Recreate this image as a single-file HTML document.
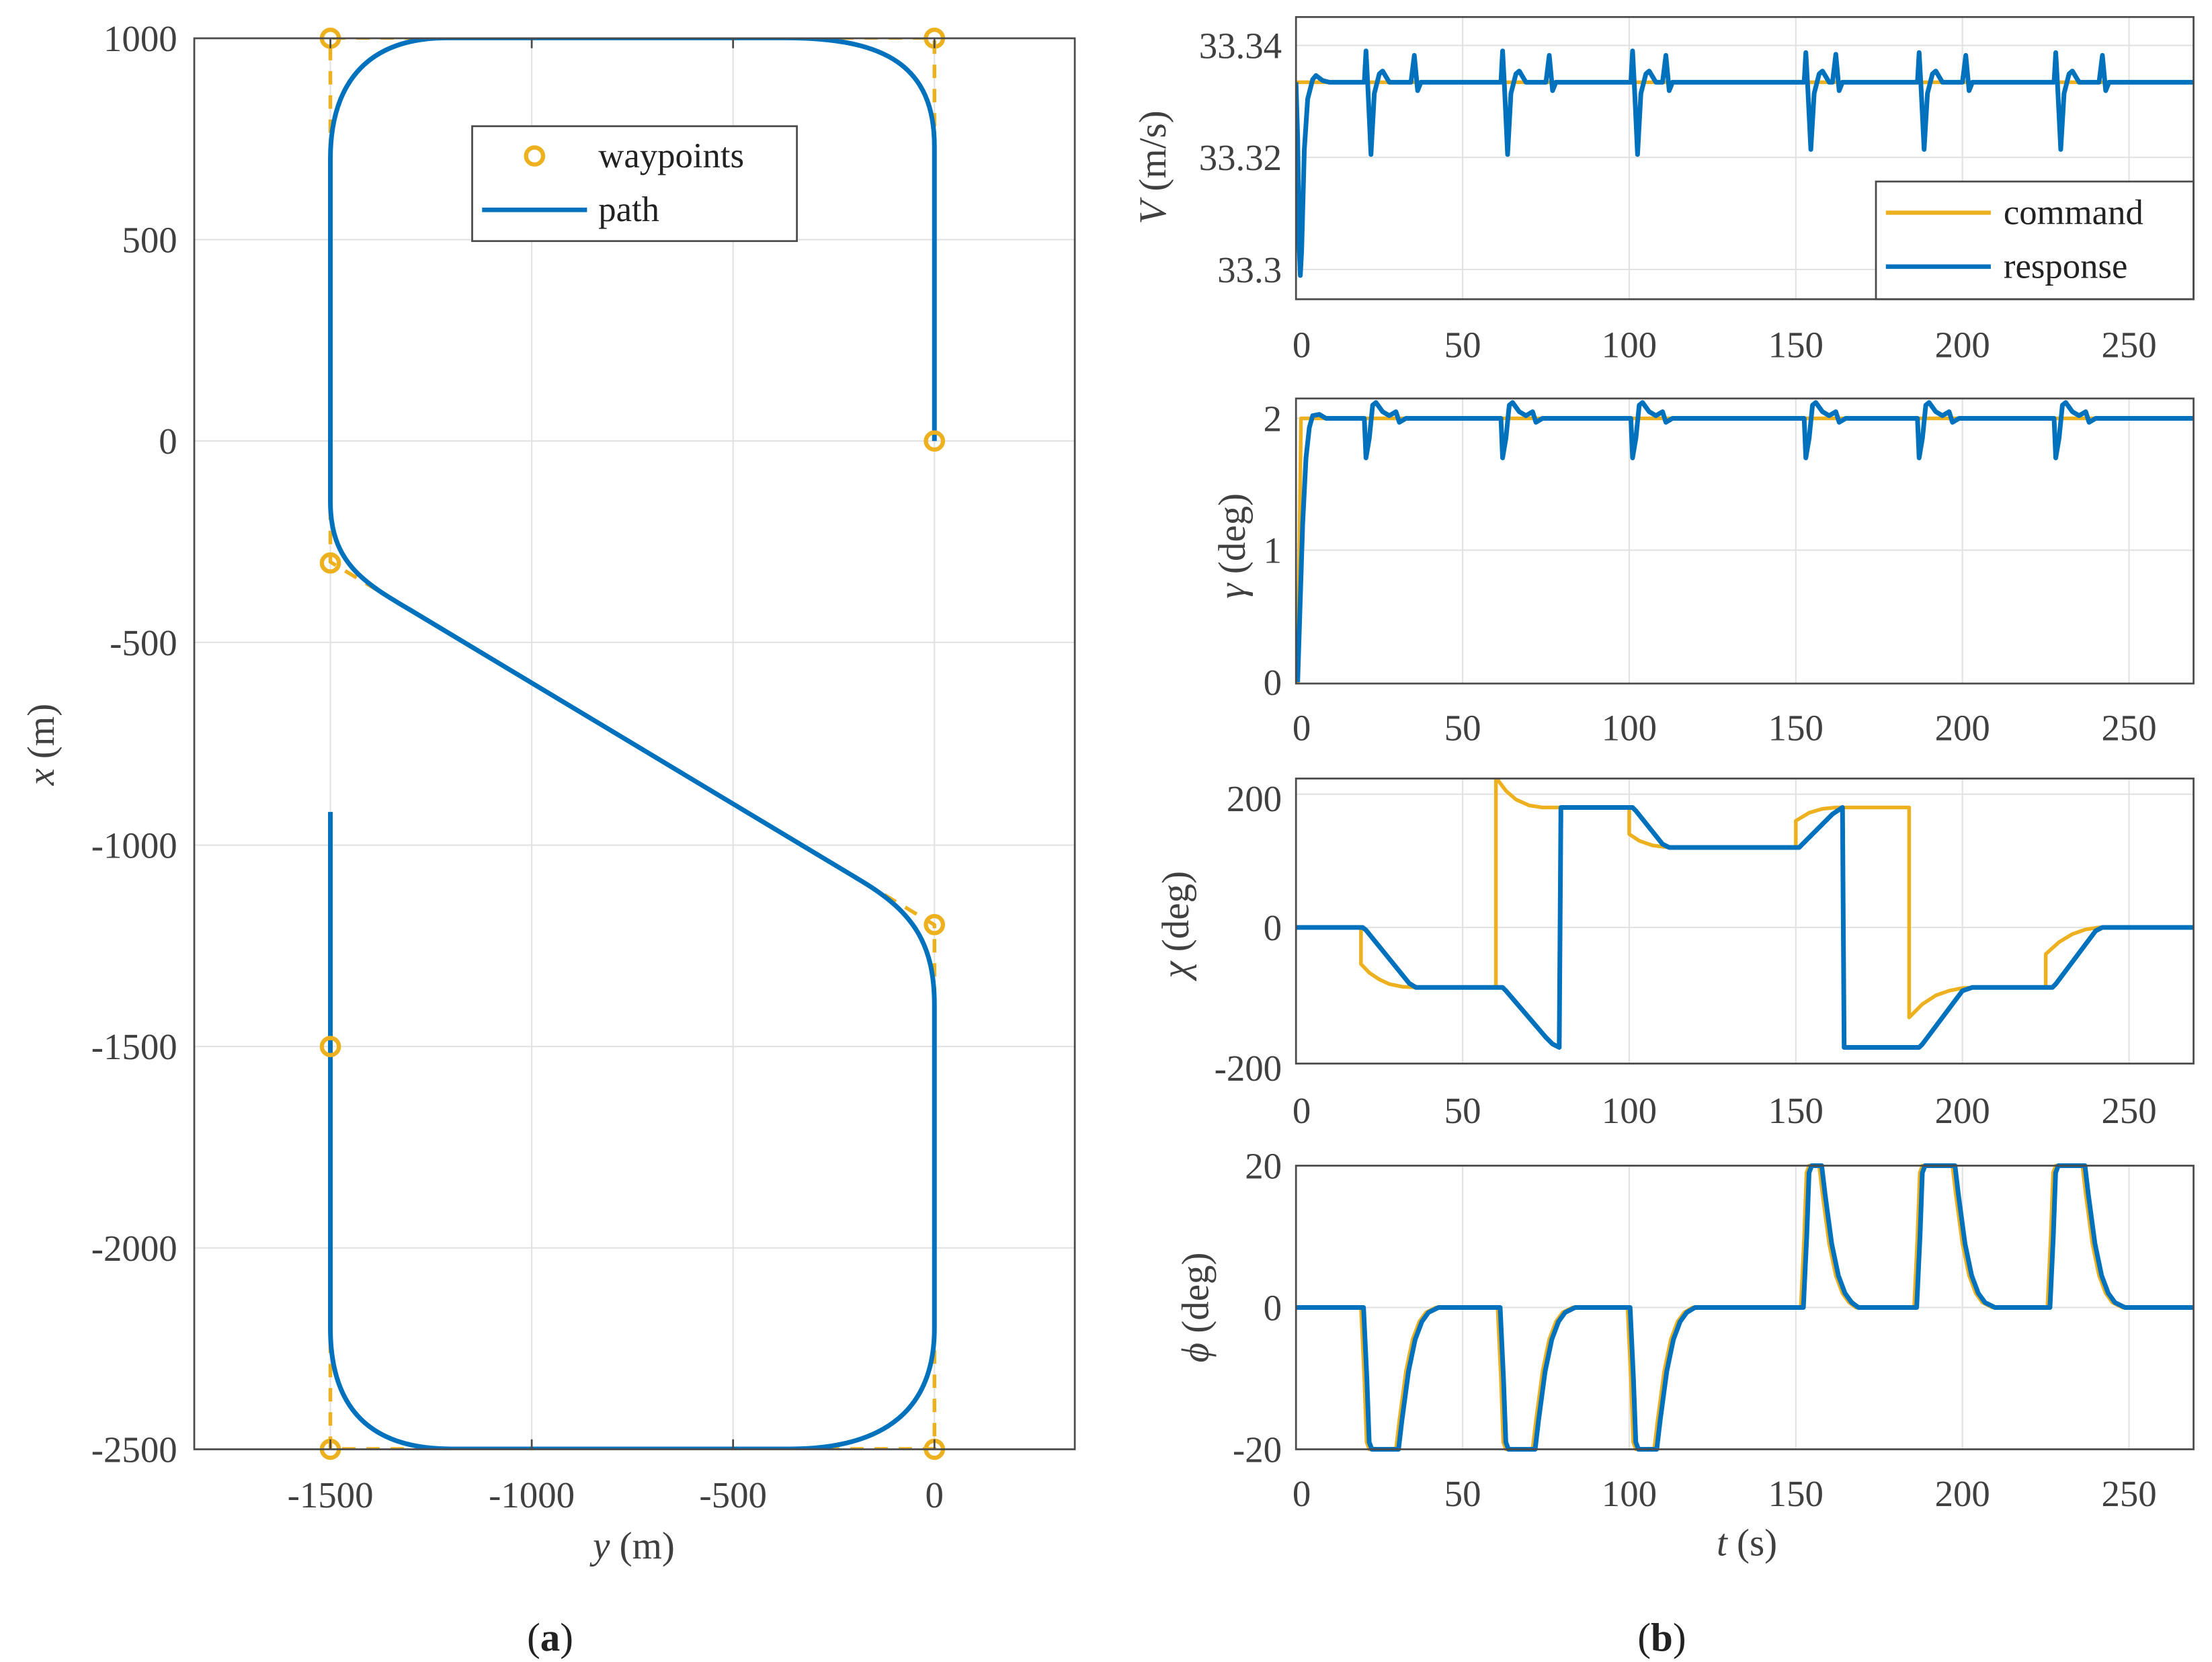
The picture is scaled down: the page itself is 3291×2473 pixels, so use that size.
<!DOCTYPE html>
<html><head><meta charset="utf-8"><style>
html,body{margin:0;padding:0;background:#fff;}
svg{display:block;}
text{font-family:"Liberation Serif",serif;fill:#404040;}
.ln{fill:none;vector-effect:non-scaling-stroke;stroke-linejoin:round;}
.b{stroke:#0072BD;stroke-width:7;}
.o{stroke:#EDB120;stroke-width:5.5;}
.g{stroke:#e2e2e2;stroke-width:1;}
.ax{fill:none;stroke:#4a4a4a;stroke-width:1.3;}
</style></head><body>
<svg width="3291" height="2473" viewBox="0 0 1560 1172" preserveAspectRatio="none" xmlns="http://www.w3.org/2000/svg">
<defs>
<clipPath id="cL"><rect x="137" y="27" width="621" height="995"/></clipPath>
<clipPath id="c1"><rect x="914" y="12" width="633" height="199"/></clipPath>
<clipPath id="c2"><rect x="914" y="281" width="633" height="201"/></clipPath>
<clipPath id="c3"><rect x="914" y="549" width="633" height="201"/></clipPath>
<clipPath id="c4"><rect x="914" y="820" width="633" height="204"/></clipPath>
</defs>

<!-- LEFT PLOT -->
<g class="g">
<line x1="233" y1="27" x2="233" y2="1022"/><line x1="375" y1="27" x2="375" y2="1022"/>
<line x1="517" y1="27" x2="517" y2="1022"/><line x1="659" y1="27" x2="659" y2="1022"/>
<line x1="137" y1="169" x2="758" y2="169"/><line x1="137" y1="311" x2="758" y2="311"/>
<line x1="137" y1="453" x2="758" y2="453"/><line x1="137" y1="596" x2="758" y2="596"/>
<line x1="137" y1="738" x2="758" y2="738"/><line x1="137" y1="880" x2="758" y2="880"/>
</g>
<g clip-path="url(#cL)">
<g transform="translate(659,311) scale(0.284,-0.2843)">
<polyline class="ln o" stroke-dasharray="20 16" points="0,0 0,1000 -1500,1000 -1500,-300 0,-1200 0,-2500 -1500,-2500 -1500,-1500"/>
<path class="ln b" d="M0,0 L0,730 C0,930 -120,1000 -370,1000 L-1210,1000 C-1440,1000 -1500,850 -1500,700 L-1500,-150 C-1500,-300 -1420,-350 -1300,-420 L-180,-1092 C-50,-1170 0,-1250 0,-1400 L0,-2200 C0,-2400 -120,-2500 -360,-2500 L-1200,-2500 C-1420,-2500 -1500,-2380 -1500,-2200 L-1500,-920"/>
</g>
</g>
<g fill="none" stroke="#EDB120" stroke-width="3">
<circle cx="659" cy="311" r="6"/><circle cx="659" cy="27" r="6"/><circle cx="233" cy="27" r="6"/>
<circle cx="233" cy="397" r="6"/><circle cx="659" cy="652" r="6"/><circle cx="659" cy="1022" r="6"/>
<circle cx="233" cy="1022" r="6"/><circle cx="233" cy="738" r="6"/>
</g>
<rect class="ax" x="137" y="27" width="621" height="995"/>
<g stroke="#4a4a4a" stroke-width="1.3">
<line x1="233" y1="1022" x2="233" y2="1015"/><line x1="375" y1="1022" x2="375" y2="1015"/><line x1="517" y1="1022" x2="517" y2="1015"/><line x1="659" y1="1022" x2="659" y2="1015"/>
<line x1="233" y1="27" x2="233" y2="34"/><line x1="375" y1="27" x2="375" y2="34"/><line x1="517" y1="27" x2="517" y2="34"/><line x1="659" y1="27" x2="659" y2="34"/>
</g>
<!-- legend left -->
<rect x="333" y="89" width="229" height="81" fill="#fff" stroke="#4a4a4a" stroke-width="1.3"/>
<circle cx="377" cy="110" r="6" fill="none" stroke="#EDB120" stroke-width="3"/>
<line x1="340" y1="148" x2="414" y2="148" stroke="#0072BD" stroke-width="3.2"/>
<text x="422" y="118" font-size="25" style="fill:#222">waypoints</text>
<text x="422" y="156" font-size="25" style="fill:#222">path</text>
<g font-size="26" text-anchor="end">
<text x="125" y="36">1000</text><text x="125" y="178">500</text><text x="125" y="320">0</text>
<text x="125" y="462">-500</text><text x="125" y="605">-1000</text><text x="125" y="747">-1500</text>
<text x="125" y="889">-2000</text><text x="125" y="1031">-2500</text>
</g>
<g font-size="26" text-anchor="middle">
<text x="233" y="1063">-1500</text><text x="375" y="1063">-1000</text><text x="517" y="1063">-500</text><text x="659" y="1063">0</text>
</g>
<text x="447" y="1099" font-size="27" text-anchor="middle"><tspan font-style="italic">y</tspan> (m)</text>
<text transform="translate(38,525) rotate(-90)" font-size="27" text-anchor="middle"><tspan font-style="italic">x</tspan> (m)</text>
<text x="388" y="1164" font-size="28" text-anchor="middle" style="fill:#222">(<tspan font-weight="bold">a</tspan>)</text>
<text x="1172" y="1164" font-size="28" text-anchor="middle" style="fill:#222">(<tspan font-weight="bold">b</tspan>)</text>

<!-- RIGHT common vertical grid -->
<g class="g">
<line x1="1031.5" y1="12" x2="1031.5" y2="211"/><line x1="1149" y1="12" x2="1149" y2="211"/><line x1="1266.5" y1="12" x2="1266.5" y2="211"/><line x1="1384" y1="12" x2="1384" y2="211"/><line x1="1501.5" y1="12" x2="1501.5" y2="211"/>
<line x1="914" y1="32" x2="1547" y2="32"/><line x1="914" y1="111" x2="1547" y2="111"/><line x1="914" y1="190" x2="1547" y2="190"/>
<line x1="1031.5" y1="281" x2="1031.5" y2="482"/><line x1="1149" y1="281" x2="1149" y2="482"/><line x1="1266.5" y1="281" x2="1266.5" y2="482"/><line x1="1384" y1="281" x2="1384" y2="482"/><line x1="1501.5" y1="281" x2="1501.5" y2="482"/>
<line x1="914" y1="295" x2="1547" y2="295"/><line x1="914" y1="388" x2="1547" y2="388"/>
<line x1="1031.5" y1="549" x2="1031.5" y2="750"/><line x1="1149" y1="549" x2="1149" y2="750"/><line x1="1266.5" y1="549" x2="1266.5" y2="750"/><line x1="1384" y1="549" x2="1384" y2="750"/><line x1="1501.5" y1="549" x2="1501.5" y2="750"/>
<line x1="914" y1="560" x2="1547" y2="560"/><line x1="914" y1="654" x2="1547" y2="654"/>
<line x1="1031.5" y1="822" x2="1031.5" y2="1022"/><line x1="1149" y1="822" x2="1149" y2="1022"/><line x1="1266.5" y1="822" x2="1266.5" y2="1022"/><line x1="1384" y1="822" x2="1384" y2="1022"/><line x1="1501.5" y1="822" x2="1501.5" y2="1022"/>
<line x1="914" y1="922" x2="1547" y2="922"/>
</g>

<!-- Plot 1 V -->
<g clip-path="url(#c1)"><g transform="translate(914,58) scale(2.35,-3.95)">
<polyline class="ln o" points="0,0 270,0"/>
<polyline class="ln b" points="0,0 0.5,-10 1,-30 1.3,-34.5 1.7,-30 2.5,-12 3.5,-3 5,0.5 6,1.2 8,0.3 10,0 20.5,0 21,5.6 21.5,0 22.5,-12.9 23.5,-2 25,1.5 26,2 28,0 34.5,0 35.5,4.8 36.5,-1.5 37.5,0 61.5,0 62,5.6 62.5,0 63.5,-12.9 64.5,-2 66,1.5 67,2 69,0 75,0 76,4.8 77,-1.5 78,0 100.5,0 101,5.6 101.5,0 102.5,-12.9 103.5,-2 105,1.5 106,2 108,0 110,0 111,4.8 112,-1.5 113,0 152.5,0 153,5.3 153.5,0 154.5,-12 155.5,-2 157,1.5 158,2 160,0 161,0 162,5 163,-1.5 164,0 186.5,0 187,5.3 187.5,0 188.5,-12 189.5,-2 191,1.5 192,2 194,0 200,0 201,4.8 202,-1.5 203,0 227.5,0 228,5.3 228.5,0 229.5,-12 230.5,-2 232,1.5 233,2 235,0 241,0 242,4.8 243,-1.5 244,0 270,0"/>
</g></g>
<rect x="1323" y="128" width="224" height="83" fill="#fff" stroke="#4a4a4a" stroke-width="1.3"/>
<line x1="1330" y1="150" x2="1404" y2="150" stroke="#EDB120" stroke-width="3"/>
<line x1="1330" y1="188" x2="1404" y2="188" stroke="#0072BD" stroke-width="3.2"/>
<text x="1413" y="158" font-size="25" style="fill:#222">command</text>
<text x="1413" y="196" font-size="25" style="fill:#222">response</text>
<rect class="ax" x="914" y="12" width="633" height="199"/>

<!-- Plot 2 gamma -->
<g clip-path="url(#c2)"><g transform="translate(914,481) scale(2.35,-93)">
<polyline class="ln o" points="0,0 0.5,0 1.5,2 270,2"/>
<polyline class="ln b" points="0.5,0 1,0.4 2,1.2 3,1.7 4,1.93 5,2.02 7,2.03 9,2 20.5,2 21,1.7 22,1.85 23,2.1 24,2.12 26,2.05 28,2.02 30,2.05 31,1.97 33,2 61.5,2 62,1.7 63,1.85 64,2.1 65,2.12 67,2.05 69,2.02 71,2.05 72,1.97 74,2 100.5,2 101,1.7 102,1.85 103,2.1 104,2.12 106,2.05 108,2.02 110,2.05 111,1.97 113,2 152.5,2 153,1.7 154,1.85 155,2.1 156,2.12 158,2.05 160,2.02 162,2.05 163,1.97 165,2 186.5,2 187,1.7 188,1.85 189,2.1 190,2.12 192,2.05 194,2.02 196,2.05 197,1.97 199,2 227.5,2 228,1.7 229,1.85 230,2.1 231,2.12 233,2.05 235,2.02 237,2.05 238,1.97 240,2 270,2"/>
</g></g>
<rect class="ax" x="914" y="281" width="633" height="201"/>

<!-- Plot 3 chi -->
<g clip-path="url(#c3)"><g transform="translate(914,654) scale(2.35,-0.47)">
<polyline class="ln o" points="0,0 19.5,0 19.5,-55 22,-68 25,-78 28,-85 32,-89 36,-90 60,-90 60,225 63,205 66,192 70,183 74,180 100,180 100,140 103,130 107,123 112,120 150,120 150,160 154,172 158,178 162,180 184,180 184,-135 188,-115 192,-102 196,-95 200,-91 204,-90 225,-90 225,-40 229,-22 233,-10 237,-3 241,0 270,0"/>
<polyline class="ln b" points="0,0 20,0 21,-4 34,-84 36,-90 62,-90 63,-95 75,-165 77,-175 79,-180 79.5,180 101,180 102,175 110,125 112,120 151,120 152,125 161,170 164,180 164.5,-180 187,-180 188,-175 200,-95 203,-90 227,-90 228,-85 240,-5 242,0 270,0"/>
</g></g>
<rect class="ax" x="914" y="549" width="633" height="201"/>

<!-- Plot 4 phi -->
<g clip-path="url(#c4)">
<g transform="translate(914,922) scale(2.35,-5)">
<polyline class="ln o" points="0,0 19.5,0 20.5,-10 21.2,-19 22,-20 30,-20 31,-16 33,-9 35,-4.5 37,-2 39,-0.7 42,0 60.5,0 61.5,-10 62.2,-19 63,-20 71,-20 72,-16 74,-9 76,-4.5 78,-2 80,-0.7 83,0 99.5,0 100.5,-10 101.2,-19 102,-20 107.5,-20 108.5,-16 110.5,-9 112.5,-4.5 114.5,-2 116.5,-0.7 119,0 151.5,0 152.5,10 153.2,19 154,20 157,20 158,16 160,9 162,4.5 164,2 166,0.7 168,0 185.5,0 186.5,10 187.2,19 188,20 197,20 198,16 200,9 202,4.5 204,2 206,0.7 209,0 225.5,0 226.5,10 227.2,19 228,20 236,20 237,16 239,9 241,4.5 243,2 245,0.7 248,0 270,0"/>
</g>
<g transform="translate(915.8,922) scale(2.35,-5)">
<polyline class="ln b" points="-1,0 19.5,0 20.5,-10 21.2,-19 22,-20 30,-20 31,-16 33,-9 35,-4.5 37,-2 39,-0.7 42,0 60.5,0 61.5,-10 62.2,-19 63,-20 71,-20 72,-16 74,-9 76,-4.5 78,-2 80,-0.7 83,0 99.5,0 100.5,-10 101.2,-19 102,-20 107.5,-20 108.5,-16 110.5,-9 112.5,-4.5 114.5,-2 116.5,-0.7 119,0 151.5,0 152.5,10 153.2,19 154,20 157,20 158,16 160,9 162,4.5 164,2 166,0.7 168,0 185.5,0 186.5,10 187.2,19 188,20 197,20 198,16 200,9 202,4.5 204,2 206,0.7 209,0 225.5,0 226.5,10 227.2,19 228,20 236,20 237,16 239,9 241,4.5 243,2 245,0.7 248,0 270,0"/>
</g>
</g>
<rect class="ax" x="914" y="822" width="633" height="200"/>

<!-- right tick labels -->
<g font-size="26" text-anchor="middle">
<text x="918" y="252">0</text><text x="1031.5" y="252">50</text><text x="1149" y="252">100</text><text x="1266.5" y="252">150</text><text x="1384" y="252">200</text><text x="1501.5" y="252">250</text>
<text x="918" y="522">0</text><text x="1031.5" y="522">50</text><text x="1149" y="522">100</text><text x="1266.5" y="522">150</text><text x="1384" y="522">200</text><text x="1501.5" y="522">250</text>
<text x="918" y="792">0</text><text x="1031.5" y="792">50</text><text x="1149" y="792">100</text><text x="1266.5" y="792">150</text><text x="1384" y="792">200</text><text x="1501.5" y="792">250</text>
<text x="918" y="1062">0</text><text x="1031.5" y="1062">50</text><text x="1149" y="1062">100</text><text x="1266.5" y="1062">150</text><text x="1384" y="1062">200</text><text x="1501.5" y="1062">250</text>
</g>
<g font-size="26" text-anchor="end">
<text x="904" y="41">33.34</text><text x="904" y="120">33.32</text><text x="904" y="199">33.3</text>
<text x="904" y="304">2</text><text x="904" y="397">1</text><text x="904" y="490">0</text>
<text x="904" y="572">200</text><text x="904" y="663">0</text><text x="904" y="762">-200</text>
<text x="904" y="831">20</text><text x="904" y="931">0</text><text x="904" y="1031">-20</text>
</g>
<text x="1232" y="1097" font-size="27" text-anchor="middle"><tspan font-style="italic">t</tspan> (s)</text>
<text transform="translate(822,118) rotate(-90)" font-size="27" text-anchor="middle"><tspan font-style="italic">V</tspan> (m/s)</text>
<text transform="translate(878,385) rotate(-90)" font-size="27" text-anchor="middle"><tspan font-style="italic">γ</tspan> (deg)</text>
<text transform="translate(838,652) rotate(-90)" font-size="27" text-anchor="middle"><tspan font-style="italic">χ</tspan> (deg)</text>
<text transform="translate(852,922) rotate(-90)" font-size="27" text-anchor="middle"><tspan font-style="italic">ϕ</tspan> (deg)</text>
</svg>
</body></html>
